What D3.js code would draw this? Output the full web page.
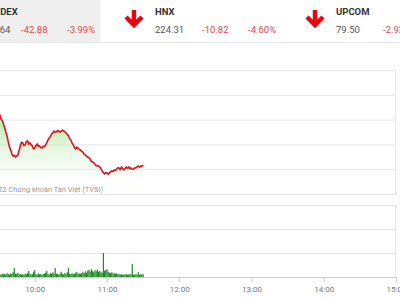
<!DOCTYPE html>
<html>
<head>
<meta charset="utf-8">
<script src="https://cdn.jsdelivr.net/npm/d3@7"></script>
<style>
  body { margin: 0; background: #fff; }
  svg { display: block; font-family: Roboto, Arial, sans-serif; }
</style>
</head>
<body>
<svg id="chart" width="400" height="300"></svg>
<script>
// Header quotes
const indexNames = ["VN-INDEX", "HNX", "UPCOM"];
const indexValues = ["1,031.64", "224.31", "79.50"];
const indexChanges = ["-42.88", "-10.82", "-2.92"];
const indexPercents = ["-3.99%", "-4.60%", "-3.54%"];

// Time axis
const timeTicks = ["09:00", "10:00", "11:00", "12:00", "13:00", "14:00", "15:00"];
const priceTicks = [1030, 1040, 1050, 1060, 1070, 1080];
const volumeTicks = [0, 1, 2, 3];

// Intraday index, one value per minute from priceStart
const priceStart = "09:16";
const priceValues = [
  1071.9, 1071.2, 1071.0, 1070.3, 1069.9, 1069.5, 1068.6, 1068.4, 1067.9, 1066.9,
  1066.5, 1065.4, 1064.7, 1064.1, 1063.1, 1061.9, 1060.2, 1059.6, 1058.2, 1056.8,
  1055.0, 1053.4, 1051.0, 1049.0, 1047.7, 1046.1, 1045.3, 1045.6, 1044.9, 1045.3,
  1045.7, 1047.6, 1049.4, 1050.9, 1050.6, 1049.5, 1049.8, 1051.2, 1051.4, 1050.1,
  1050.6, 1049.9, 1049.4, 1048.2, 1048.5, 1049.6, 1050.2, 1049.1, 1049.4, 1048.7,
  1048.5, 1049.3, 1049.0, 1049.8, 1050.6, 1051.8, 1052.6, 1053.2, 1054.2, 1054.6,
  1055.4, 1054.9, 1055.0, 1055.6, 1055.4, 1054.9, 1055.4, 1055.8, 1055.4, 1055.1,
  1054.6, 1054.1, 1053.4, 1052.3, 1051.8, 1050.5, 1049.8, 1048.7, 1048.1, 1048.9,
  1048.5, 1047.9, 1047.7, 1047.2, 1046.9, 1046.1, 1045.7, 1045.3, 1044.9, 1044.6,
  1044.1, 1043.2, 1042.9, 1042.6, 1042.1, 1041.5, 1041.3, 1041.4, 1040.9, 1040.1,
  1039.3, 1038.6, 1038.1, 1038.6, 1038.5, 1038.0, 1038.5, 1039.0, 1039.3, 1039.1,
  1039.7, 1039.5, 1040.1, 1040.6, 1040.5, 1039.8, 1040.9, 1040.2, 1039.7, 1040.4,
  1040.9, 1040.3, 1040.9, 1040.1, 1040.5, 1040.0, 1040.1, 1040.6, 1040.5, 1041.0,
  1041.3, 1040.8, 1041.3, 1041.2, 1041.7
];

// Matched volume, one bar per minute from volumeStart
const volumeStart = "09:30";
const volumeValues = [
  0.10, 0.12, 0.09, 0.14, 0.11, 0.13, 0.10, 0.16, 0.12, 0.10,
  0.15, 0.13, 0.20, 0.37, 0.14, 0.12, 0.18, 0.11, 0.13, 0.10,
  0.12, 0.09, 0.14, 0.11, 0.16, 0.25, 0.13, 0.10, 0.12, 0.22,
  0.29, 0.12, 0.10, 0.15, 0.11, 0.13, 0.09, 0.12, 0.14, 0.18,
  0.25, 0.12, 0.10, 0.16, 0.13, 0.20, 0.15, 0.37, 0.14, 0.12,
  0.10, 0.15, 0.22, 0.13, 0.11, 0.17, 0.12, 0.20, 0.37, 0.14,
  0.12, 0.16, 0.11, 0.14, 0.18, 0.22, 0.13, 0.15, 0.12, 0.17,
  0.20, 0.16, 0.24, 0.18, 0.27, 0.30, 0.22, 0.33, 0.25, 0.20,
  0.28, 0.24, 0.31, 0.22, 0.26, 0.20, 0.18, 1.00, 0.26, 0.30,
  0.32, 0.22, 0.18, 0.16, 0.20, 0.14, 0.17, 0.12, 0.15, 0.11,
  0.13, 0.10, 0.12, 0.09, 0.11, 0.10, 0.13, 0.09, 0.10, 0.12,
  0.11, 0.54, 0.10, 0.09, 0.12, 0.10, 0.20, 0.09, 0.11, 0.10, 0.12
];

const svg = d3.select("#chart");
const parseTime = d3.timeParse("%H:%M");
const addMinutes = (t, m) => new Date(t.getTime() + m * 60000);

const priceData = priceValues.map((v, i) => ({ t: addMinutes(parseTime(priceStart), i), v }));
const volumeData = volumeValues.map((v, i) => ({ t: addMinutes(parseTime(volumeStart), i), v }));

// Shared time scale (the 09:00 edge sits off the left side of the crop)
const x = d3.scaleTime()
  .domain([parseTime(timeTicks[0]), parseTime(timeTicks[timeTicks.length - 1])])
  .range([-37.5, 396]);

// ---- header ----
svg.append("rect").attr("x", -60).attr("y", 0).attr("width", 160).attr("height", 42).attr("fill", "#efefef");
svg.append("line").attr("x1", 0).attr("x2", 400).attr("y1", 42.5).attr("y2", 42.5).attr("stroke", "#e6e6e6");

indexNames.forEach((name, i) => {
  const bx = -26 + i * 181;
  const g = svg.append("g").attr("transform", `translate(${bx},0)`);
  // down arrow
  g.append("path")
    .attr("d", "M-21,10V25M-29,17L-21,25L-13,17")
    .attr("fill", "none").attr("stroke", "#e30613").attr("stroke-width", 4.5);
  g.append("text").attr("y", 15).attr("font-size", 9.5).attr("font-weight", "bold")
    .attr("fill", "#333").text(name);
  g.append("text").attr("y", 33).attr("font-size", 9.5).attr("fill", "#555").text(indexValues[i]);
  g.append("text").attr("x", 47).attr("y", 33).attr("font-size", 9.5).attr("fill", "#e0474c").text(indexChanges[i]);
  g.append("text").attr("x", 93).attr("y", 33).attr("font-size", 9.5).attr("fill", "#e0474c").text(indexPercents[i]);
});

// ---- price chart ----
const y = d3.scaleLinear().domain([priceTicks[0], priceTicks[priceTicks.length - 1]]).range([194, 70]);

svg.append("g")
  .attr("transform", `translate(${x.range()[0]},0)`)
  .call(d3.axisRight(y).tickValues(priceTicks).tickSize(x.range()[1] - x.range()[0]).tickFormat(""))
  .call(g => g.select(".domain").remove())
  .call(g => g.selectAll("line").attr("stroke", "#e6e6e6"));
svg.append("line").attr("x1", 395.5).attr("x2", 395.5).attr("y1", 70).attr("y2", 194).attr("stroke", "#e6e6e6");

const defs = svg.append("defs");
const grad = defs.append("linearGradient").attr("id", "fillGrad")
  .attr("gradientUnits", "userSpaceOnUse").attr("x1", 0).attr("x2", 0).attr("y1", 125).attr("y2", 194);
grad.append("stop").attr("offset", 0).attr("stop-color", "#b5eaa9").attr("stop-opacity", 0.85);
grad.append("stop").attr("offset", 1).attr("stop-color", "#ffffff").attr("stop-opacity", 0);

svg.append("path").datum(priceData)
  .attr("fill", "url(#fillGrad)")
  .attr("d", d3.area().x(d => x(d.t)).y0(194).y1(d => y(d.v)));

svg.append("text")
  .attr("x", 103).attr("y", 192).attr("text-anchor", "end")
  .attr("font-size", 7.4).attr("fill", "#999")
  .text("©2022 Chứng khoán Tân Việt (TVSI)");

svg.append("path").datum(priceData)
  .attr("fill", "none").attr("stroke", "#d9141c").attr("stroke-width", 1.6).attr("stroke-linejoin", "round")
  .attr("d", d3.line().x(d => x(d.t)).y(d => y(d.v)));

// ---- volume chart ----
const yv = d3.scaleLinear().domain([0, volumeTicks[volumeTicks.length - 1]]).range([277, 205]);

svg.append("g")
  .attr("transform", `translate(${x.range()[0]},0)`)
  .call(d3.axisRight(yv).tickValues(volumeTicks.slice(1)).tickSize(x.range()[1] - x.range()[0]).tickFormat(""))
  .call(g => g.select(".domain").remove())
  .call(g => g.selectAll("line").attr("stroke", "#e6e6e6"));
svg.append("line").attr("x1", 395.5).attr("x2", 395.5).attr("y1", 205).attr("y2", 277).attr("stroke", "#e6e6e6");

svg.append("g").selectAll("rect").data(volumeData).join("rect")
  .attr("x", d => x(d.t) - 0.6)
  .attr("width", 1.2)
  .attr("y", d => yv(d.v))
  .attr("height", d => yv(0) - yv(d.v))
  .attr("fill", "#1f8b24");

svg.append("g")
  .attr("transform", "translate(0,277)")
  .call(d3.axisBottom(x).tickValues(timeTicks.map(parseTime)).tickSize(5).tickFormat(d3.timeFormat("%H:%M")))
  .call(g => g.select(".domain").attr("stroke", "#cccccc"))
  .call(g => g.selectAll(".tick line").attr("stroke", "#cccccc"))
  .call(g => g.selectAll(".tick text").attr("fill", "#777").attr("font-size", 8).attr("font-family", "Roboto, Arial, sans-serif").attr("dy", "0.9em"));
</script>
</body>
</html>
